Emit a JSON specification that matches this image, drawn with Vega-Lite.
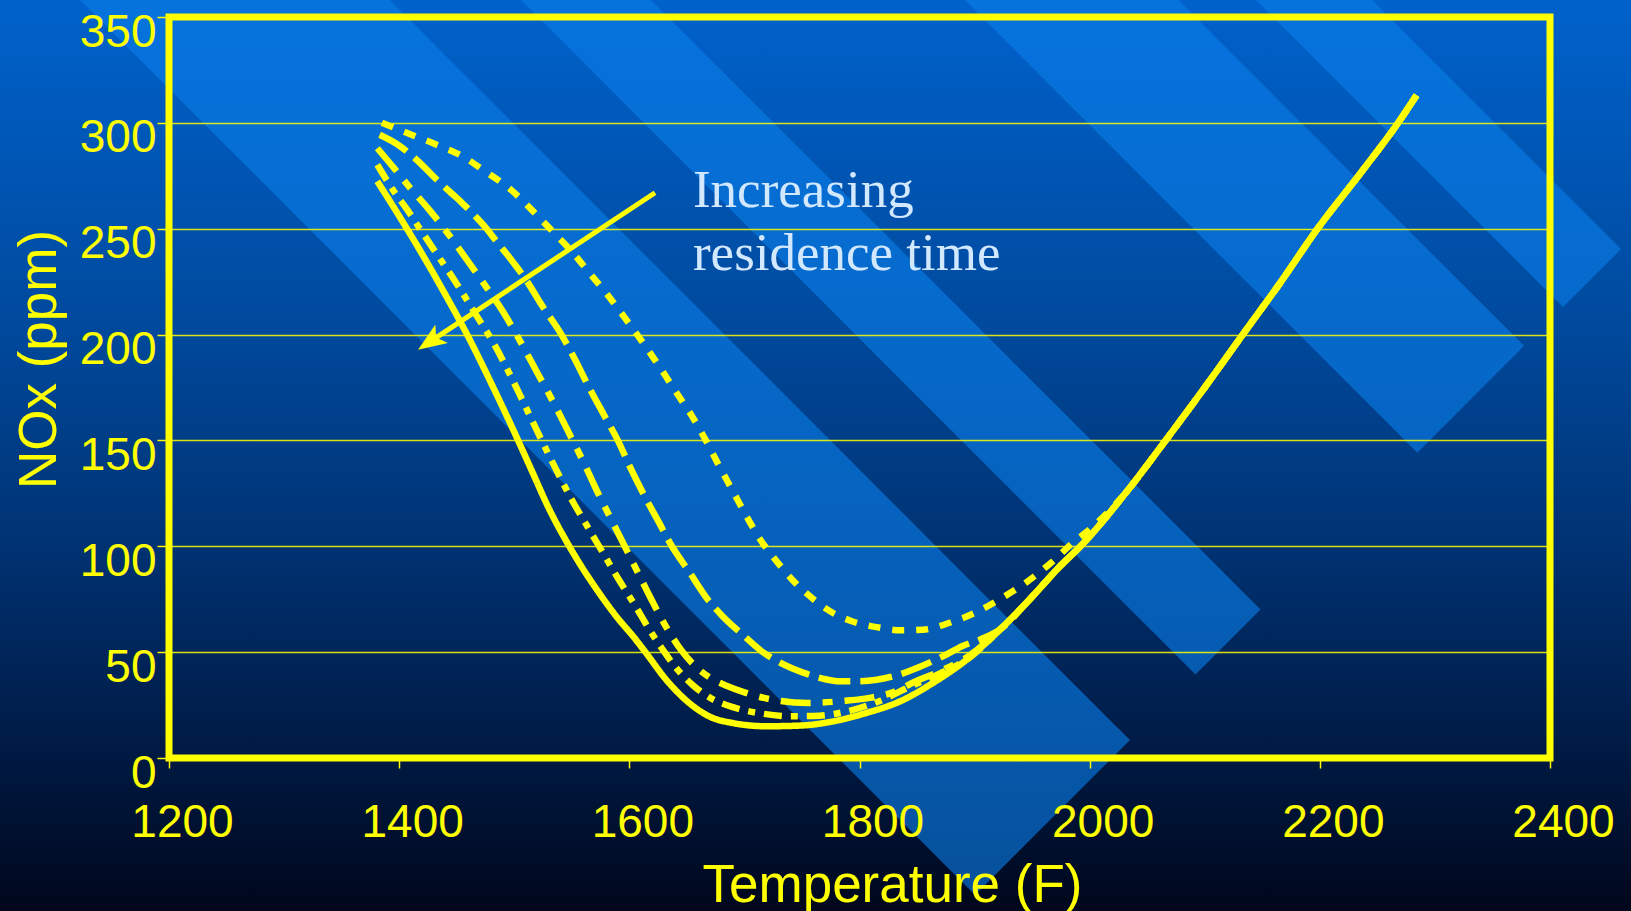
{
  "$schema": "https://vega.github.io/schema/vega-lite/v6.json",
  "width": 1381,
  "height": 741,
  "autosize": {"type": "none"},
  "padding": {"left": 169, "top": 17, "right": 81, "bottom": 153},
  "background": "#002a66",
  "config": {"view": {"stroke": null}},
  "datasets": {
    "curves": [
      {"s": "c1", "T": 1385, "NOx": 300}, {"s": "c1", "T": 1408, "NOx": 295}, {"s": "c1", "T": 1431, "NOx": 290}, {"s": "c1", "T": 1454, "NOx": 284.5},
      {"s": "c1", "T": 1475, "NOx": 277}, {"s": "c1", "T": 1498, "NOx": 268}, {"s": "c1", "T": 1515, "NOx": 259}, {"s": "c1", "T": 1532, "NOx": 249.5},
      {"s": "c1", "T": 1552, "NOx": 238}, {"s": "c1", "T": 1564, "NOx": 230}, {"s": "c1", "T": 1580, "NOx": 219.5}, {"s": "c1", "T": 1596, "NOx": 208},
      {"s": "c1", "T": 1612, "NOx": 196}, {"s": "c1", "T": 1626, "NOx": 185}, {"s": "c1", "T": 1641, "NOx": 172.5}, {"s": "c1", "T": 1655, "NOx": 161}, 
      {"s": "c1", "T": 1666, "NOx": 150.5}, {"s": "c1", "T": 1678, "NOx": 138}, {"s": "c1", "T": 1690, "NOx": 126}, {"s": "c1", "T": 1702, "NOx": 114},
      {"s": "c1", "T": 1714, "NOx": 103}, {"s": "c1", "T": 1725, "NOx": 95}, {"s": "c1", "T": 1742, "NOx": 84}, {"s": "c1", "T": 1760, "NOx": 75},
      {"s": "c1", "T": 1777, "NOx": 68.5}, {"s": "c1", "T": 1794, "NOx": 64.5}, {"s": "c1", "T": 1818, "NOx": 61.5}, {"s": "c1", "T": 1835, "NOx": 60.3},
      {"s": "c1", "T": 1855, "NOx": 60.6}, {"s": "c1", "T": 1879, "NOx": 64}, {"s": "c1", "T": 1902, "NOx": 69}, {"s": "c1", "T": 1925, "NOx": 76},
      {"s": "c1", "T": 1945, "NOx": 83}, {"s": "c1", "T": 1966, "NOx": 92}, {"s": "c1", "T": 1986, "NOx": 102}, {"s": "c1", "T": 2000, "NOx": 108},
      {"s": "c1", "T": 2031, "NOx": 125}, {"s": "c1", "T": 2066, "NOx": 150}, {"s": "c1", "T": 2100, "NOx": 175}, {"s": "c1", "T": 2133, "NOx": 200},
      {"s": "c1", "T": 2165, "NOx": 224}, {"s": "c1", "T": 2198, "NOx": 250}, {"s": "c1", "T": 2235, "NOx": 276}, {"s": "c1", "T": 2268, "NOx": 300},
      {"s": "c1", "T": 2284, "NOx": 313},

      {"s": "c2", "T": 1383, "NOx": 294.4}, {"s": "c2", "T": 1398, "NOx": 290}, {"s": "c2", "T": 1410, "NOx": 285}, {"s": "c2", "T": 1422, "NOx": 279},
      {"s": "c2", "T": 1433, "NOx": 273}, {"s": "c2", "T": 1445, "NOx": 267}, {"s": "c2", "T": 1455, "NOx": 262}, {"s": "c2", "T": 1466, "NOx": 256},
      {"s": "c2", "T": 1476, "NOx": 250}, {"s": "c2", "T": 1486, "NOx": 243}, {"s": "c2", "T": 1495, "NOx": 237}, {"s": "c2", "T": 1510, "NOx": 226},
      {"s": "c2", "T": 1525, "NOx": 213}, {"s": "c2", "T": 1541, "NOx": 200}, {"s": "c2", "T": 1553, "NOx": 188}, {"s": "c2", "T": 1565, "NOx": 175},
      {"s": "c2", "T": 1578, "NOx": 162}, {"s": "c2", "T": 1590, "NOx": 150}, {"s": "c2", "T": 1601, "NOx": 137}, {"s": "c2", "T": 1612, "NOx": 125},
      {"s": "c2", "T": 1625, "NOx": 112}, {"s": "c2", "T": 1637, "NOx": 100}, {"s": "c2", "T": 1652, "NOx": 88}, {"s": "c2", "T": 1668, "NOx": 75},
      {"s": "c2", "T": 1681, "NOx": 67}, {"s": "c2", "T": 1699, "NOx": 58}, {"s": "c2", "T": 1716, "NOx": 50}, {"s": "c2", "T": 1731, "NOx": 45},
      {"s": "c2", "T": 1751, "NOx": 40.3}, {"s": "c2", "T": 1768, "NOx": 37.5}, {"s": "c2", "T": 1783, "NOx": 36.2}, {"s": "c2", "T": 1800, "NOx": 36.3},
      {"s": "c2", "T": 1815, "NOx": 37}, {"s": "c2", "T": 1829, "NOx": 38.5}, {"s": "c2", "T": 1852, "NOx": 43}, {"s": "c2", "T": 1876, "NOx": 49},
      {"s": "c2", "T": 1890, "NOx": 53}, {"s": "c2", "T": 1905, "NOx": 56}, {"s": "c2", "T": 1922, "NOx": 60.6}, {"s": "c2", "T": 1948, "NOx": 75},
      {"s": "c2", "T": 1975, "NOx": 91}, {"s": "c2", "T": 1992, "NOx": 100}, {"s": "c2", "T": 2031, "NOx": 125}, {"s": "c2", "T": 2066, "NOx": 150},
      {"s": "c2", "T": 2100, "NOx": 175}, {"s": "c2", "T": 2133, "NOx": 200}, {"s": "c2", "T": 2165, "NOx": 224}, {"s": "c2", "T": 2198, "NOx": 250},
      {"s": "c2", "T": 2235, "NOx": 276}, {"s": "c2", "T": 2268, "NOx": 300}, {"s": "c2", "T": 2284, "NOx": 313},

      {"s": "c3", "T": 1381, "NOx": 288}, {"s": "c3", "T": 1395, "NOx": 279}, {"s": "c3", "T": 1410, "NOx": 269}, {"s": "c3", "T": 1426, "NOx": 259},
      {"s": "c3", "T": 1442, "NOx": 248}, {"s": "c3", "T": 1458, "NOx": 236}, {"s": "c3", "T": 1475, "NOx": 223}, {"s": "c3", "T": 1490, "NOx": 211},
      {"s": "c3", "T": 1505, "NOx": 197}, {"s": "c3", "T": 1520, "NOx": 182}, {"s": "c3", "T": 1535, "NOx": 167}, {"s": "c3", "T": 1548, "NOx": 153},
      {"s": "c3", "T": 1560, "NOx": 140}, {"s": "c3", "T": 1572, "NOx": 126}, {"s": "c3", "T": 1584, "NOx": 113}, {"s": "c3", "T": 1596, "NOx": 100},
      {"s": "c3", "T": 1608, "NOx": 87}, {"s": "c3", "T": 1620, "NOx": 74}, {"s": "c3", "T": 1633, "NOx": 61}, {"s": "c3", "T": 1645, "NOx": 51},
      {"s": "c3", "T": 1658, "NOx": 43}, {"s": "c3", "T": 1670, "NOx": 38}, {"s": "c3", "T": 1685, "NOx": 34}, {"s": "c3", "T": 1700, "NOx": 31},
      {"s": "c3", "T": 1730, "NOx": 27}, {"s": "c3", "T": 1755, "NOx": 26}, {"s": "c3", "T": 1787, "NOx": 27}, {"s": "c3", "T": 1810, "NOx": 28.5},
      {"s": "c3", "T": 1829, "NOx": 31}, {"s": "c3", "T": 1848, "NOx": 36}, {"s": "c3", "T": 1870, "NOx": 41}, {"s": "c3", "T": 1893, "NOx": 47.5},
      {"s": "c3", "T": 1922, "NOx": 60.6}, {"s": "c3", "T": 1948, "NOx": 75}, {"s": "c3", "T": 1975, "NOx": 91}, {"s": "c3", "T": 1992, "NOx": 100},
      {"s": "c3", "T": 2031, "NOx": 125}, {"s": "c3", "T": 2066, "NOx": 150}, {"s": "c3", "T": 2100, "NOx": 175}, {"s": "c3", "T": 2133, "NOx": 200},
      {"s": "c3", "T": 2165, "NOx": 224}, {"s": "c3", "T": 2198, "NOx": 250}, {"s": "c3", "T": 2235, "NOx": 276}, {"s": "c3", "T": 2268, "NOx": 300},
      {"s": "c3", "T": 2284, "NOx": 313},

      {"s": "c4", "T": 1381, "NOx": 280.2}, {"s": "c4", "T": 1395, "NOx": 268}, {"s": "c4", "T": 1407, "NOx": 259}, {"s": "c4", "T": 1418, "NOx": 250},
      {"s": "c4", "T": 1434, "NOx": 237}, {"s": "c4", "T": 1450, "NOx": 224}, {"s": "c4", "T": 1466, "NOx": 210}, {"s": "c4", "T": 1483, "NOx": 195},
      {"s": "c4", "T": 1500, "NOx": 177}, {"s": "c4", "T": 1515, "NOx": 160}, {"s": "c4", "T": 1532, "NOx": 141}, {"s": "c4", "T": 1550, "NOx": 122},
      {"s": "c4", "T": 1565, "NOx": 108}, {"s": "c4", "T": 1577, "NOx": 97}, {"s": "c4", "T": 1590, "NOx": 85}, {"s": "c4", "T": 1605, "NOx": 72},
      {"s": "c4", "T": 1617, "NOx": 61}, {"s": "c4", "T": 1628, "NOx": 52}, {"s": "c4", "T": 1640, "NOx": 43}, {"s": "c4", "T": 1655, "NOx": 34.5},
      {"s": "c4", "T": 1670, "NOx": 28.5}, {"s": "c4", "T": 1690, "NOx": 24}, {"s": "c4", "T": 1715, "NOx": 21}, {"s": "c4", "T": 1740, "NOx": 19.7},
      {"s": "c4", "T": 1765, "NOx": 20}, {"s": "c4", "T": 1789, "NOx": 22}, {"s": "c4", "T": 1816, "NOx": 26.6}, {"s": "c4", "T": 1844, "NOx": 33.7},
      {"s": "c4", "T": 1870, "NOx": 40}, {"s": "c4", "T": 1893, "NOx": 46.4}, {"s": "c4", "T": 1922, "NOx": 60.6}, {"s": "c4", "T": 1948, "NOx": 75},
      {"s": "c4", "T": 1975, "NOx": 91}, {"s": "c4", "T": 1992, "NOx": 100}, {"s": "c4", "T": 2031, "NOx": 125}, {"s": "c4", "T": 2066, "NOx": 150},
      {"s": "c4", "T": 2100, "NOx": 175}, {"s": "c4", "T": 2133, "NOx": 200}, {"s": "c4", "T": 2165, "NOx": 224}, {"s": "c4", "T": 2198, "NOx": 250},
      {"s": "c4", "T": 2235, "NOx": 276}, {"s": "c4", "T": 2268, "NOx": 300}, {"s": "c4", "T": 2284, "NOx": 313},

      {"s": "c5", "T": 1381, "NOx": 272.4}, {"s": "c5", "T": 1400, "NOx": 256}, {"s": "c5", "T": 1420, "NOx": 238}, {"s": "c5", "T": 1440, "NOx": 219},
      {"s": "c5", "T": 1460, "NOx": 199}, {"s": "c5", "T": 1480, "NOx": 177}, {"s": "c5", "T": 1500, "NOx": 154}, {"s": "c5", "T": 1515, "NOx": 136},
      {"s": "c5", "T": 1530, "NOx": 118}, {"s": "c5", "T": 1550, "NOx": 98}, {"s": "c5", "T": 1575, "NOx": 77}, {"s": "c5", "T": 1590, "NOx": 66},
      {"s": "c5", "T": 1604, "NOx": 57}, {"s": "c5", "T": 1614, "NOx": 50}, {"s": "c5", "T": 1632, "NOx": 37}, {"s": "c5", "T": 1652, "NOx": 26},
      {"s": "c5", "T": 1670, "NOx": 19.5}, {"s": "c5", "T": 1690, "NOx": 16.5}, {"s": "c5", "T": 1719, "NOx": 15}, {"s": "c5", "T": 1748, "NOx": 15.3},
      {"s": "c5", "T": 1777, "NOx": 17.3}, {"s": "c5", "T": 1806, "NOx": 21.3}, {"s": "c5", "T": 1835, "NOx": 26.7}, {"s": "c5", "T": 1864, "NOx": 35.5},
      {"s": "c5", "T": 1893, "NOx": 46.4}, {"s": "c5", "T": 1922, "NOx": 60.6}, {"s": "c5", "T": 1948, "NOx": 75}, {"s": "c5", "T": 1975, "NOx": 91},
      {"s": "c5", "T": 1992, "NOx": 100}, {"s": "c5", "T": 2031, "NOx": 125}, {"s": "c5", "T": 2066, "NOx": 150}, {"s": "c5", "T": 2100, "NOx": 175},
      {"s": "c5", "T": 2133, "NOx": 200}, {"s": "c5", "T": 2165, "NOx": 224}, {"s": "c5", "T": 2198, "NOx": 250}, {"s": "c5", "T": 2235, "NOx": 276},
      {"s": "c5", "T": 2268, "NOx": 300}, {"s": "c5", "T": 2284, "NOx": 313}
    ]
  },
  "layer": [
    {
      "data": {"values": [{}]},
      "mark": {"type": "rect", "fill": {"gradient": "linear", "x1": 0, "y1": 0, "x2": 0, "y2": 1,
        "stops": [
          {"offset": 0, "color": "#0062cc"},
          {"offset": 0.35, "color": "#004a9e"},
          {"offset": 0.6, "color": "#003272"},
          {"offset": 0.8, "color": "#001c48"},
          {"offset": 1, "color": "#00061a"}
        ]}},
      "encoding": {
        "x": {"datum": 1050, "type": "quantitative", "title": "Temperature (F)", "scale": {"domain": [1200, 2400], "nice": false, "zero": false}},
        "x2": {"datum": 2475},
        "y": {"datum": 360, "type": "quantitative", "title": "NOx (ppm)", "scale": {"domain": [0, 350], "nice": false, "zero": false}},
        "y2": {"datum": -75}
      }
    },
    {
      "data": {"values": [{}]},
      "mark": {"type": "rule", "color": "#0a7ee8", "opacity": 0.62, "strokeWidth": 219, "strokeCap": "butt"},
      "encoding": {
        "x": {"datum": 1083.6, "type": "quantitative", "title": "Temperature (F)"}, "x2": {"datum": 1967.7},
        "y": {"datum": 452.5, "type": "quantitative", "title": "NOx (ppm)"}, "y2": {"datum": -28.1}
      }
    },
    {
      "data": {"values": [{}]},
      "mark": {"type": "rule", "color": "#0a7ee8", "opacity": 0.62, "strokeWidth": 92, "strokeCap": "butt"},
      "encoding": {
        "x": {"datum": 1388.6, "type": "quantitative", "title": "Temperature (F)"}, "x2": {"datum": 2120.2},
        "y": {"datum": 452.5, "type": "quantitative", "title": "NOx (ppm)"}, "y2": {"datum": 54.8}
      }
    },
    {
      "data": {"values": [{}]},
      "mark": {"type": "rule", "color": "#0a7ee8", "opacity": 0.62, "strokeWidth": 151, "strokeCap": "butt"},
      "encoding": {
        "x": {"datum": 1810.4, "type": "quantitative", "title": "Temperature (F)"}, "x2": {"datum": 2331.1},
        "y": {"datum": 452.5, "type": "quantitative", "title": "NOx (ppm)"}, "y2": {"datum": 169.45}
      }
    },
    {
      "data": {"values": [{}]},
      "mark": {"type": "rule", "color": "#0a7ee8", "opacity": 0.62, "strokeWidth": 82, "strokeCap": "butt"},
      "encoding": {
        "x": {"datum": 2021.1, "type": "quantitative", "title": "Temperature (F)"}, "x2": {"datum": 2436.5},
        "y": {"datum": 452.5, "type": "quantitative", "title": "NOx (ppm)"}, "y2": {"datum": 226.7}
      }
    },
    {
      "data": {"values": [{}]},
      "mark": {"type": "rect", "fill": "transparent", "stroke": "#ffff00", "strokeWidth": 7},
      "encoding": {
        "x": {"datum": 1200, "type": "quantitative", "title": "Temperature (F)"}, "x2": {"datum": 2400},
        "y": {"datum": 0, "type": "quantitative", "title": "NOx (ppm)"}, "y2": {"datum": 350}
      }
    },
    {
      "data": {"name": "curves"},
      "mark": {"type": "line", "color": "#ffff00", "interpolate": "monotone", "strokeWidth": 6.5, "strokeCap": "butt"},
      "encoding": {
        "x": {"field": "T", "type": "quantitative", "title": "Temperature (F)",
          "scale": {"domain": [1200, 2400], "nice": false, "zero": false},
          "axis": {"values": [1200, 1400, 1600, 1800, 2000, 2200, 2400], "format": "d",
            "grid": false, "domain": false, "ticks": true, "tickColor": "#ffff00", "tickSize": 10, "tickWidth": 1.5,
            "labelColor": "#ffff00", "labelFont": "Liberation Sans", "labelFontSize": 46, "labelPadding": 32, "labelOffset": 13,
            "labelFlush": false, "labelOverlap": false, "labelBaseline": "top", "labelAlign": "center",
            "titleColor": "#ffff00", "titleFont": "Liberation Sans", "titleFontSize": 53, "titleFontWeight": "normal",
            "titleX": 723, "titleY": 143, "titleAlign": "center", "titleBaseline": "alphabetic", "zindex": 1}},
        "y": {"field": "NOx", "type": "quantitative", "title": "NOx (ppm)",
          "scale": {"domain": [0, 350], "nice": false, "zero": false},
          "axis": {"values": [0, 50, 100, 150, 200, 250, 300, 350], "format": "d",
            "grid": true, "gridColor": "#ffff00", "gridWidth": 1.3, "gridOpacity": 0.85, "domain": false,
            "ticks": true, "tickColor": "#ffff00", "tickSize": 12, "tickWidth": 1.5,
            "labelColor": "#ffff00", "labelFont": "Liberation Sans", "labelFontSize": 46, "labelPadding": 1, "labelOffset": 15,
            "labelBaseline": "middle", "labelAlign": "right", "labelOverlap": false, "labelFlush": false,
            "titleColor": "#ffff00", "titleFont": "Liberation Sans", "titleFontSize": 53, "titleFontWeight": "normal",
            "titleAngle": 270, "titleX": -114, "titleY": 342, "titleAlign": "center", "titleBaseline": "alphabetic", "zindex": 1}},
        "strokeDash": {"field": "s", "type": "nominal",
          "scale": {"domain": ["c1", "c2", "c3", "c4", "c5"], "range": [[12, 12], [32, 10], [30, 12, 10, 12], [18, 9, 7, 9], [1, 0]]},
          "legend": null}
      }
    },
    {
      "data": {"values": [{}]},
      "mark": {"type": "rule", "color": "#ffff00", "strokeWidth": 5},
      "encoding": {
        "x": {"datum": 1622.3, "type": "quantitative", "title": "Temperature (F)"}, "x2": {"datum": 1427.2},
        "y": {"datum": 267.0, "type": "quantitative", "title": "NOx (ppm)"}, "y2": {"datum": 196.8}
      }
    },
    {
      "data": {"values": [{}]},
      "mark": {"type": "point", "shape": "M0,-1L0.75,0.9L0,0.45L-0.75,0.9Z", "filled": true, "color": "#ffff00", "opacity": 1, "size": 900, "angle": 236},
      "encoding": {
        "x": {"datum": 1427.2, "type": "quantitative", "title": "Temperature (F)"},
        "y": {"datum": 196.8, "type": "quantitative", "title": "NOx (ppm)"}
      }
    },
    {
      "data": {"values": [{}]},
      "mark": {"type": "text", "text": ["Increasing", "residence time"], "font": "Liberation Serif", "fontSize": 53,
        "color": "#d2e8ff", "align": "left", "baseline": "alphabetic", "lineHeight": 63},
      "encoding": {
        "x": {"datum": 1655.3, "type": "quantitative", "title": "Temperature (F)"},
        "y": {"datum": 260.4, "type": "quantitative", "title": "NOx (ppm)"}
      }
    }
  ]
}
